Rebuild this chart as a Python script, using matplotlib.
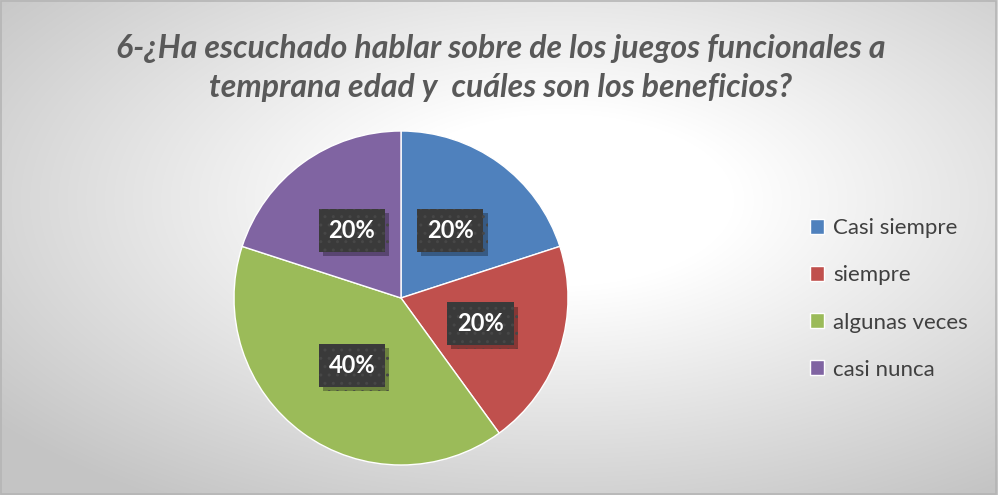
import numpy as np
import matplotlib
matplotlib.use("Agg")
import matplotlib.pyplot as plt
from matplotlib import patheffects as pe
from matplotlib.patches import Rectangle

categories = ["Casi siempre", "siempre", "algunas veces", "casi nunca"]
values = [20, 20, 40, 20]
colors = ["#4F81BD", "#C0504D", "#9BBB59", "#8064A2"]
title = "6-¿Ha escuchado hablar sobre de los juegos funcionales a\ntemprana edad y  cuáles son los beneficios?"

W, H = 998, 495
fig = plt.figure(figsize=(W / 100, H / 100), dpi=100)

# background radial gradient
bg = fig.add_axes([0, 0, 1, 1])
yy, xx = np.mgrid[0:H, 0:W]
d = np.sqrt(((xx - 560) / (W / 2)) ** 2 + ((yy - 200) / (H / 2)) ** 2)
t = np.clip((d - 0.35) / (1.45 - 0.35), 0, 1)
val = 1.0 - 0.23 * t
img = np.dstack([val, val, val])
bg.imshow(img, extent=[0, 1, 0, 1], aspect="auto", origin="upper")
bg.set_xlim(0, 1)
bg.set_ylim(0, 1)
bg.axis("off")
bg.add_patch(Rectangle((0.001, 0.003), 0.997, 0.994, fill=False,
                       edgecolor="#b5b5b5", lw=1.2, transform=bg.transAxes))

cx, cy, r = 401, 298, 167
ax = fig.add_axes([(cx - r) / W, (H - cy - r) / H, 2 * r / W, 2 * r / H])
wedges, texts, autotexts = ax.pie(
    values, colors=colors, startangle=90, counterclock=False,
    autopct="%1.0f%%", pctdistance=0.5,
    wedgeprops=dict(edgecolor="white", linewidth=1),
    textprops=dict(color="white", fontsize=17, fontweight="bold", family=["Lato", "DejaVu Sans"]),
)
ax.set_aspect("equal")
ax.set_xlim(-1, 1)
ax.set_ylim(-1, 1)
for at in autotexts:
    at.set_bbox(dict(boxstyle="square,pad=0.42", facecolor="#3a3a3a", edgecolor="#474747",
                     linewidth=0, hatch=".."))
    at.get_bbox_patch().set_path_effects([
        pe.SimplePatchShadow(offset=(3, -3), shadow_rgbFace="black", alpha=0.3),
        pe.Normal()])

fig.text(0.502, 0.862, title, ha="center", va="center", fontsize=23,
         fontweight="bold", fontstyle="italic", color="#595959",
         family=["Lato", "DejaVu Sans"], linespacing=1.42)

leg = fig.legend(wedges, categories, loc="center left",
                 bbox_to_anchor=(790 / W, 1 - 299 / H), frameon=False,
                 handlelength=0.65, handleheight=0.65, handletextpad=0.4,
                 labelspacing=1.22,
                 prop=dict(family=["Lato", "DejaVu Sans"], size=16))
for txt in leg.get_texts():
    txt.set_color("#404040")

fig.savefig("out.png", dpi=100)
